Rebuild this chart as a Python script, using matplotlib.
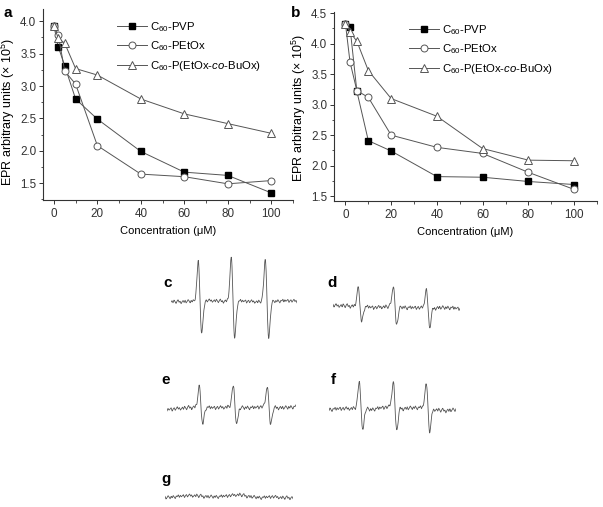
import numpy as np
import matplotlib
matplotlib.use("Agg")
import matplotlib.pyplot as plt
from matplotlib.ticker import MultipleLocator

plt.rcParams['font.family'] = ['Liberation Sans', 'DejaVu Sans']
plt.rcParams['mathtext.fontset'] = 'custom'
plt.rcParams['mathtext.rm'] = 'Liberation Sans'
plt.rcParams['mathtext.it'] = 'Liberation Sans:italic'

# ---------------- data ----------------
conc = [0, 2, 5, 10, 20, 40, 60, 80, 100]
labels = [r"C$_{60}$-PVP", r"C$_{60}$-PEtOx", r"C$_{60}$-P(EtOx-$\it{co}$-BuOx)"]

a_pvp = [3.93, 3.61, 3.31, 2.80, 2.49, 1.99, 1.67, 1.62, 1.35]
a_petox = [3.93, 3.79, 3.23, 3.03, 2.08, 1.64, 1.60, 1.49, 1.54]
a_cobuox = [3.93, 3.74, 3.66, 3.27, 3.17, 2.80, 2.57, 2.42, 2.27]

b_pvp = [4.33, 4.27, 3.22, 2.41, 2.24, 1.82, 1.81, 1.74, 1.69]
b_petox = [4.33, 3.70, 3.23, 3.12, 2.50, 2.30, 2.20, 1.89, 1.61]
b_cobuox = [4.33, 4.19, 4.04, 3.56, 3.10, 2.81, 2.28, 2.09, 2.08]

# EPR spectra (panels c-g): line positions, positive/negative lobe heights
spec_names = ["c", "d", "e", "f", "g"]
spec_lines = {
    "c": [29, 62, 96],
    "d": [27, 62, 95],
    "e": [34, 68, 102],
    "f": [32, 66, 99],
    "g": [],
}
spec_up = {
    "c": [39, 43, 43],
    "d": [19, 21, 19],
    "e": [20, 21, 21],
    "f": [26, 25, 25],
    "g": [],
}
spec_down = {
    "c": [32, 37, 36],
    "d": [15, 18, 19],
    "e": [17, 17, 17],
    "f": [22, 23, 23],
    "g": [],
}
spec_noise = {"c": 1.6, "d": 1.8, "e": 1.8, "f": 1.8, "g": 1.6}
# baseline wiggle (hand-read, arbitrary units)
wiggle = [0.0, 0.8, -0.5, 1.2, 0.3, -0.9, 0.6, 1.4, -0.2, 0.5, -1.1, 0.2, 0.9, -0.4,
          1.0, -0.7, 0.1, 1.3, 0.4, -0.8, 0.7, -0.3, 1.1, 0.0, -1.0, 0.6, 0.2, 1.2,
          -0.5, 0.8, -0.2, 0.4, 1.0, -0.9, 0.3, 0.9, -0.6, 0.5, 1.3, -0.1, 0.7, -0.8]
# slow baseline undulation (hand-read), sampled evenly across each trace
drift = {
    "c": [0, 0, 0.5, 1, 1, 0.5, 1, 0.5, 0, 0, 0.5, 1, 0.5],
    "d": [1, 1, 0.5, 0, -1, 0, 0, -1, -1, -2, -1, -1, -2],
    "e": [-2, -1, 0, 1, 0, 0, 1, 0, 0, 1, 0, 0, 1],
    "f": [-1, 0, 0, 1, -1, 1, 2, 0, 1, 1, -1, -2, -1],
    "g": [-1, 0, 1, 1, 0, 0, 1, 2, 0, -1, 0, -1, -1],
}

# ---------------- figure ----------------
W, H = 603, 507
fig = plt.figure(figsize=(W / 100, H / 100), dpi=100)

def px_axes(x0, x1, y0, y1):
    return fig.add_axes([x0 / W, 1 - y1 / H, (x1 - x0) / W, (y1 - y0) / H])

gray = '#555555'
styles = [dict(marker='s', mfc='black', mec='black', ms=4.2),
          dict(marker='o', mfc='white', mec=gray, ms=5.0, mew=0.7),
          dict(marker='^', mfc='white', mec=gray, ms=5.5, mew=0.7)]

def style_ax(ax, ylim, yticks, label_xy):
    ax.set_xlim(-5, 110)
    ax.set_ylim(*ylim)
    ax.set_xticks([0, 20, 40, 60, 80, 100])
    ax.set_yticks(yticks)
    ax.xaxis.set_minor_locator(MultipleLocator(10))
    ax.yaxis.set_minor_locator(MultipleLocator(0.25))
    for s in ['top', 'right']:
        ax.spines[s].set_visible(False)
    for s in ['left', 'bottom']:
        ax.spines[s].set_linewidth(0.8)
        ax.spines[s].set_color('#333333')
    ax.tick_params(which='major', direction='out', length=3, width=0.7, labelsize=8.4,
                   colors='#333333', pad=1.8)
    ax.tick_params(axis='x', which='major', pad=3)
    ax.tick_params(which='minor', direction='out', length=1.8, width=0.6, colors='#333333')
    ax.set_xlabel("Concentration (μM)", fontsize=8.0, labelpad=4)
    ax.set_ylabel(r"EPR arbitrary units ($\times$ 10$^5$)", fontsize=9.0)
    ax.yaxis.set_label_coords(*label_xy)

def plot_series(ax, series, anchor_x):
    handles = []
    for ys, st, lab in zip(series, styles, labels):
        h, = ax.plot(conc, ys, color=gray, lw=0.7, label=lab, **st)
        handles.append(h)
    ax.legend(handles=handles, loc='upper left', bbox_to_anchor=(anchor_x, 0.985),
              frameon=False, fontsize=8.2, handlelength=2.6, handletextpad=0.3,
              labelspacing=0.5, borderaxespad=0.3)

axa = px_axes(43, 293, 9, 200)
plot_series(axa, [a_pvp, a_petox, a_cobuox], 0.265)
style_ax(axa, (1.24, 4.19), [1.5, 2.0, 2.5, 3.0, 3.5, 4.0], (-0.105, 0.46))
fig.text(3 / W, 1 - 17 / H, "a", fontsize=11, fontweight='bold')

axb = px_axes(334, 597, 12, 201)
plot_series(axb, [b_pvp, b_petox, b_cobuox], 0.255)
style_ax(axb, (1.42, 4.52), [1.5, 2.0, 2.5, 3.0, 3.5, 4.0, 4.5], (-0.1, 0.49))
fig.text(291 / W, 1 - 17 / H, "b", fontsize=11, fontweight='bold')

# ---------------- EPR spectra ----------------
spec_boxes = {  # x0, x1, baseline y (px), label pos
    "c": (171, 297, 302, (163, 287)),
    "d": (333, 460, 307, (327, 287)),
    "e": (167, 296, 408, (161, 384)),
    "f": (329, 456, 409, (331, 384)),
    "g": (165, 293, 497, (161, 483)),
}
sigma = 1.7
for name in spec_names:
    x0, x1, base, (lx, ly) = spec_boxes[name]
    h = 50
    ax = px_axes(x0, x1, base - h, base + h)
    ax.axis('off')
    n = x1 - x0
    field = np.linspace(0, n, n * 8 + 1)
    wig_y = np.roll(np.tile(wiggle, 3), spec_names.index(name) * 7) * spec_noise[name]
    wig_x = np.linspace(0, n, len(wig_y))
    y = np.interp(field, wig_x, wig_y)
    dr = drift[name]
    y += np.interp(field, np.linspace(0, n, len(dr)), dr)
    for pos, up, dn in zip(spec_lines[name], spec_up[name], spec_down[name]):
        u = (field - pos) / sigma
        shape = -u * np.exp(0.5 - u ** 2 / 2)
        y += np.where(shape > 0, shape * up, shape * dn)
    ax.plot(field, y, color='#555555', lw=0.6)
    ax.set_xlim(0, n)
    ax.set_ylim(-h, h)
    fig.text(lx / W, 1 - ly / H, name, fontsize=11, fontweight='bold')

fig.savefig("out.png", dpi=100)
